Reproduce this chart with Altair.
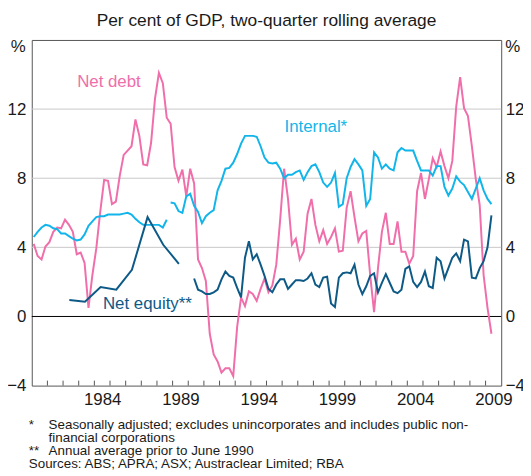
import altair as alt
import pandas as pd

FONT = "Liberation Sans"
PINK = "#F06EAA"
CYAN = "#12B5EA"
NAVY = "#0E5A87"
FRAME = "#555555"
GRID = "#C8C8C8"
TEXT = "#1A1A1A"

W, H = 474, 349

# ---------------- data (quarterly, per cent of GDP) ----------------
start_q = 1980.125          # mid-point of 1980 Q1
quarter_step = 0.25

net_debt = [
    4.2, 3.5, 3.3, 4.05, 4.3, 4.9, 5.15, 5.1,
    5.6, 5.3, 4.9, 3.6, 3.7, 3.1, 0.5, 2.4,
    3.95, 6.05, 7.9, 7.85, 6.5, 6.65, 8.15, 9.35,
    9.6, 9.85, 11.4, 10.45, 8.8, 8.75, 10.05, 12.6,
    14.1, 13.5, 11.5, 11.15, 8.65, 7.85, 8.5, 6.95,
    8.55, 7.7, 3.3, 2.8, 2.05, -1.0, -2.2, -2.6,
    -3.25, -3.0, -3.0, -3.45, -0.6, 1.1, 0.6, 1.45,
    1.3, 0.9, 1.6, 2.2, 1.4, 1.8, 3.0, 5.6,
    8.55, 6.8, 4.15, 4.5, 3.3, 3.75, 5.95, 6.8,
    5.3, 4.35, 5.0, 4.2, 4.6, 5.1, 3.75, 3.8,
    6.3, 7.25, 5.75, 4.35, 4.8, 4.95, 2.4, 0.25,
    2.8, 4.9, 6.0, 4.2, 4.2, 5.5, 3.75, 3.75,
    3.05, 3.5, 7.25, 8.3, 6.8, 7.95, 9.15, 8.65,
    9.55, 8.7, 8.0, 9.0, 12.15, 13.85, 12.05, 11.6,
    9.85, 7.95, 6.45, 2.4, 0.5, -1.0,
]

internal_a = [
    4.6, 4.9, 5.15, 5.3, 5.25, 5.1, 5.05, 4.8, 4.8, 4.65,
    4.5, 4.4, 4.45, 4.75, 5.25, 5.5, 5.75, 5.8, 5.8, 5.9,
    5.9, 5.9, 5.9, 5.95, 6.0, 5.9, 5.65, 5.45, 5.3, 5.3,
    5.3, 5.3, 5.3, 5.15, 5.6,
]
internal_b_start = 35
internal_b = [
    6.6, 6.55, 6.1, 6.0, 6.95, 7.1, 6.4, 6.05, 5.4, 5.8,
    6.0, 6.15, 7.3, 7.85, 8.55, 8.6, 8.9, 9.4, 10.0, 10.45,
    10.45, 10.45, 10.4, 9.85, 9.2, 8.9, 8.85, 8.9, 8.55, 8.0,
    8.2, 8.2, 8.35, 8.45, 7.9, 8.35, 8.7, 8.8, 8.35, 7.75,
    7.5, 7.75, 8.3, 6.35, 6.5, 8.0, 8.65, 9.1, 8.8, 8.45,
    6.4, 6.8, 9.5, 9.2, 8.55, 8.8, 8.55, 8.45, 9.5, 9.75,
    9.6, 9.6, 9.6, 9.0, 8.45, 8.45, 8.45, 8.15, 8.7, 8.7,
    7.5, 7.0, 7.4, 8.1, 7.8, 7.6, 7.2, 6.8, 7.4, 8.0,
    7.3, 6.8, 6.5,
]

equity_annual_years = [1982.4, 1983.4, 1984.4, 1985.4, 1986.4, 1987.4, 1988.4, 1989.4]
equity_annual = [0.95, 0.85, 1.7, 1.55, 2.7, 5.75, 4.15, 3.05]

equity_q_start = 41
equity_quarterly = [
    2.2, 1.55, 1.45, 1.3,
    1.3, 1.4, 1.55, 2.15, 2.6,
    2.35, 2.25, 1.65, 1.1, 3.4,
    4.35, 3.3, 3.6, 3.0, 2.35,
    1.6, 1.4, 1.85, 2.15, 2.15,
    1.6, 1.85, 2.1, 2.1, 2.05,
    2.2, 2.5, 1.85, 1.7, 2.25,
    2.3, 0.75, 0.55, 2.25, 2.5,
    2.55, 2.5, 3.0, 1.85, 1.3,
    1.75, 2.35, 2.5, 1.4, 1.95,
    2.45, 1.95, 1.45, 1.35, 1.55,
    2.75, 2.9, 2.0, 1.7, 2.0,
    2.6, 1.75, 1.65, 3.4, 3.2,
    2.2, 2.8, 3.4, 3.65, 3.2,
    4.45, 4.35, 2.25, 2.2, 2.8,
    3.2, 4.0, 5.85,
]

series_names = ["Net debt", "Internal", "Net equity"]
series_colors = [PINK, CYAN, NAVY]

label_text = ["Net debt", "Internal*", "Net equity**"]
label_series = ["Net debt", "Internal", "Net equity"]
label_x = [1982.9, 1996.15, 1984.55]
label_y = [13.57, 10.96, 0.73]

y_tick_values = [-4, 0, 4, 8, 12]
grid_values = [4, 8, 12]
zero_values = [0]
x_axis_years = list(range(1980, 2011))
inner_tick_years = list(range(1981, 2010))

title_text = "Business Funding"
subtitle_text = "Per cent of GDP, two-quarter rolling average"
note_marks = ["*", "", "**"]
note_lines = [
    "Seasonally adjusted; excludes unincorporates and includes public non-",
    "financial corporations",
    "Annual average prior to June 1990",
]
sources_line = "Sources: ABS; APRA; ASX; Austraclear Limited; RBA"

# ---------------- build tables ----------------
rows = []
for i, v in enumerate(net_debt):
    rows.append({"x": start_q + quarter_step * i, "y": v, "series": "Net debt", "seg": "debt"})
for i, v in enumerate(internal_a):
    rows.append({"x": start_q + quarter_step * i, "y": v, "series": "Internal", "seg": "int_a"})
for i, v in enumerate(internal_b):
    rows.append({"x": start_q + quarter_step * (internal_b_start + i), "y": v,
                 "series": "Internal", "seg": "int_b"})
for xv, v in zip(equity_annual_years, equity_annual):
    rows.append({"x": xv, "y": v, "series": "Net equity", "seg": "eq_a"})
for i, v in enumerate(equity_quarterly):
    rows.append({"x": start_q + quarter_step * (equity_q_start + i), "y": v,
                 "series": "Net equity", "seg": "eq_q"})
df = pd.DataFrame(rows)

labels_df = pd.DataFrame({"x": label_x, "y": label_y, "text": label_text, "series": label_series})
grid_df = pd.DataFrame({"y": grid_values})
zero_df = pd.DataFrame({"y": zero_values})
ticks_df = pd.DataFrame({"x": inner_tick_years})

x_scale = alt.Scale(domain=[1980, 2010], nice=False, zero=False)
y_scale = alt.Scale(domain=[-4, 16], nice=False, zero=False)
color_scale = alt.Scale(domain=series_names, range=series_colors)

x_axis = alt.Axis(
    values=x_axis_years, format="d",
    labelExpr="datum.value % 5 == 4 ? datum.label : ''",
    labelOffset=7.9, labelOverlap=False, labelFlush=False, labelBound=False,
    ticks=False, tickSize=0, domain=False, grid=False, title=None,
    labelPadding=6, labelFontSize=17,
)

left_axis = alt.Axis(
    values=y_tick_values, format="d", orient="left",
    ticks=False, tickSize=0, domain=False, grid=False, title=None,
    labelPadding=6, labelFontSize=17, labelFlush=False,
)
right_axis = alt.Axis(
    values=y_tick_values, format="d", orient="right",
    ticks=False, tickSize=0, domain=False, grid=False, title=None,
    labelPadding=4, labelFontSize=17, labelFlush=False,
)

grid = alt.Chart(grid_df).mark_rule(color=GRID, strokeWidth=1).encode(
    y=alt.Y("y:Q", scale=y_scale, axis=right_axis)
)

zero = alt.Chart(zero_df).mark_rule(color="#000000", strokeWidth=1).encode(
    y=alt.Y("y:Q", scale=y_scale, axis=None)
)

inner_ticks = alt.Chart(ticks_df).mark_rule(color=FRAME, strokeWidth=1).encode(
    x=alt.X("x:Q", scale=x_scale, axis=x_axis),
    y=alt.value(H),
    y2=alt.value(H - 5),
)

lines = alt.Chart(df).mark_line(strokeWidth=2).encode(
    x=alt.X("x:Q", scale=x_scale, axis=x_axis),
    y=alt.Y("y:Q", scale=y_scale, axis=left_axis),
    color=alt.Color("series:N", scale=color_scale, legend=None),
    detail="seg:N",
)

labels = alt.Chart(labels_df).mark_text(
    align="left", baseline="middle", font=FONT, fontSize=17
).encode(
    x=alt.X("x:Q", scale=x_scale, axis=x_axis),
    y=alt.Y("y:Q", scale=y_scale, axis=None),
    text="text:N",
    color=alt.Color("series:N", scale=color_scale, legend=None),
)

pct_left = alt.Chart().mark_text(
    text="%", align="right", baseline="middle", font=FONT, fontSize=17, color=TEXT, dy=7
).encode(x=alt.value(-6), y=alt.Y(datum=16, scale=y_scale, axis=None))

pct_right = alt.Chart().mark_text(
    text="%", align="left", baseline="middle", font=FONT, fontSize=17, color=TEXT, dy=7
).encode(x=alt.value(W + 4), y=alt.Y(datum=16, scale=y_scale, axis=None))

NOTE_SIZE = 13.5
note_layers = []
note_y = [392.5, 405.5, 419]
for mark_txt, line_txt, yy in zip(note_marks, note_lines, note_y):
    if mark_txt:
        note_layers.append(
            alt.Chart().mark_text(text=mark_txt, align="left", baseline="alphabetic",
                                  font=FONT, fontSize=NOTE_SIZE, color=TEXT)
            .encode(x=alt.value(-3), y=alt.value(yy))
        )
    note_layers.append(
        alt.Chart().mark_text(text=line_txt, align="left", baseline="alphabetic",
                              font=FONT, fontSize=NOTE_SIZE, color=TEXT)
        .encode(x=alt.value(17), y=alt.value(yy))
    )
note_layers.append(
    alt.Chart().mark_text(text=sources_line, align="left", baseline="alphabetic",
                          font=FONT, fontSize=NOTE_SIZE, color=TEXT)
    .encode(x=alt.value(-3), y=alt.value(432.5))
)

chart = (
    alt.layer(grid, zero, inner_ticks, lines, labels, pct_left, pct_right, *note_layers)
    .resolve_axis(y="independent")
    .properties(
        width=W, height=H,
        autosize=alt.AutoSizeParams(type="none"),
        padding={"left": 24, "top": 30, "right": 22, "bottom": 89},
        title=alt.TitleParams(
            text=title_text, subtitle=subtitle_text,
            anchor="middle", frame="group",
            font=FONT, fontSize=21, fontWeight="bold", color=TEXT,
            subtitleFont=FONT, subtitleFontSize=17.5, subtitleColor=TEXT,
            offset=9, subtitlePadding=4,
        ),
    )
    .configure_view(stroke=FRAME, strokeWidth=1)
    .configure_axis(labelFont=FONT, labelColor=TEXT)
)

chart.save("out.html", embed_options={"renderer": "svg", "actions": False})
